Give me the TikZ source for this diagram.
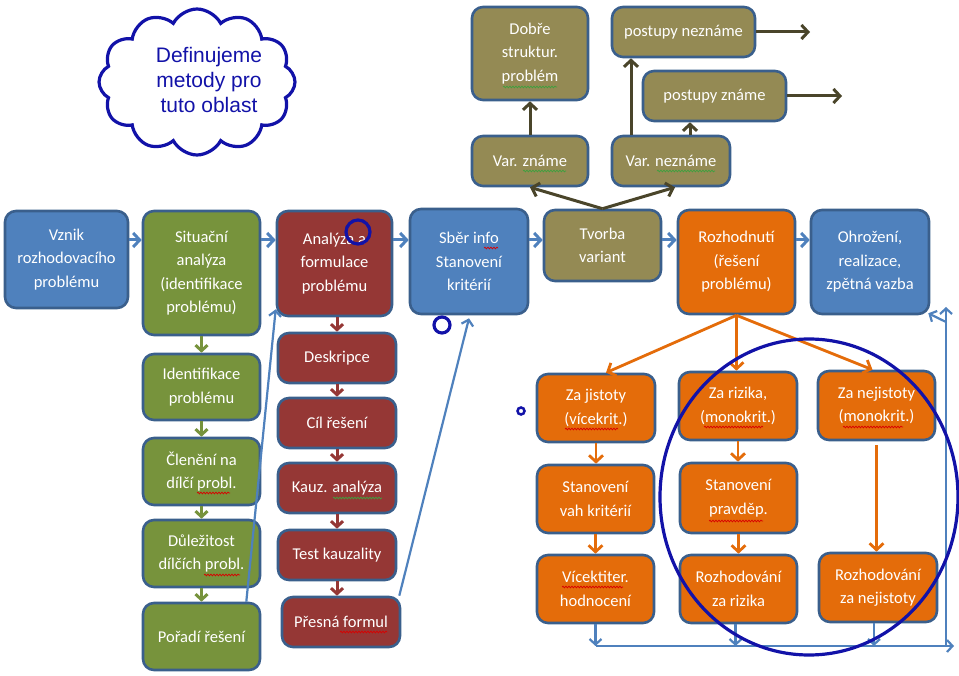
\documentclass[tikz,border=0pt]{standalone}
\usepackage{fontspec}
\setmainfont{Carlito}
\newfontfamily\cloudfont{Liberation Sans}
\usetikzlibrary{arrows.meta,shapes.symbols,decorations.pathmorphing}
\definecolor{cblue}{HTML}{4F81BD}
\definecolor{cedge}{HTML}{3A5F8C}
\definecolor{cgreen}{HTML}{77933C}
\definecolor{cred}{HTML}{953735}
\definecolor{colive}{HTML}{948A54}
\definecolor{corange}{HTML}{E46C0A}
\definecolor{cdark}{HTML}{4A452A}
\definecolor{cmark}{HTML}{1212A8}
\definecolor{sqgreen}{HTML}{3FA03F}
\tikzset{
 box/.style={draw=cedge, line width=2.6pt, rounded corners=11pt, text=white, align=center,
   font=\fontsize{16.5}{23.5}\selectfont, inner sep=2pt},
 bluebox/.style={box, fill=cblue},
 greenbox/.style={box, fill=cgreen},
 redbox/.style={box, fill=cred},
 olivebox/.style={box, fill=colive},
 orangebox/.style={box, fill=corange},
 tipv/.style={-{Straight Barb[length=6.5pt,width=14pt]}},
 tipw/.style={-{Straight Barb[length=5.5pt,width=12pt]}},
 barrow/.style={tipv, draw=cblue, line width=3pt},
 bthin/.style={tipw, draw=cblue, line width=2.2pt},
 garrow/.style={tipw, draw=cgreen, line width=3pt},
 rarrow/.style={tipw, draw=cred, line width=3pt},
 oarrow/.style={tipv, draw=cdark, line width=3pt},
 orarrow/.style={tipv, draw=corange, line width=2.8pt},
 sqr/.style={draw=red!85!black, line width=0.7pt, decorate, decoration={snake, amplitude=0.9pt, segment length=3pt}},
 sqg/.style={draw=sqgreen, line width=0.7pt, decorate, decoration={snake, amplitude=0.9pt, segment length=3pt}},
 annot/.style={draw=cmark, line width=3.2pt},
}
\begin{document}
\begin{tikzpicture}[x=1pt,y=-1pt]
\useasboundingbox (0,0) rectangle (959,676);
% cloud
\node[cloud, cloud puffs=12, cloud puff arc=125, aspect=1.35, annot, minimum width=196pt, minimum height=146pt] (cloud) at (197,82) {};
\node[text=cmark, align=center, font=\cloudfont\fontsize{21}{25}\selectfont] (cloudtxt) at (209,80) {Definujeme\\metody pro\\tuto oblast};
% main row
\node[bluebox, minimum width=123pt, minimum height=97pt] (vznik) at (66.5,259.5) {Vznik\\rozhodovacího\\problému};
\node[greenbox, minimum width=117pt, minimum height=124pt] (sit) at (201.5,273) {Situační\\analýza\\(identifikace\\problému)};
\node[redbox, minimum width=115pt, minimum height=105pt] (ana) at (334.5,263.5) {Analýza a\\formulace\\problému};
\node[bluebox, minimum width=118pt, minimum height=105pt] (sber) at (469,261.5) {Sběr info\\Stanovení\\kritérií};
\node[olivebox, minimum width=117pt, minimum height=71pt] (tvorba) at (602.5,245.5) {Tvorba\\variant};
\node[orangebox, minimum width=117pt, minimum height=104pt] (rozh) at (736.5,262) {Rozhodnutí\\(řešení\\problému)};
\node[bluebox, minimum width=118pt, minimum height=104pt] (ohr) at (870,262) {Ohrožení,\\realizace,\\zpětná vazba};
% green column
\node[greenbox, minimum width=117pt, minimum height=66pt] (ident) at (201.5,387) {Identifikace\\problému};
\node[greenbox, minimum width=117pt, minimum height=67pt] (clen) at (201.5,471.5) {Členění na\\dílčí probl.};
\node[greenbox, minimum width=117pt, minimum height=67pt] (dul) at (201.5,553.5) {Důležitost\\dílčích probl.};
\node[greenbox, minimum width=117pt, minimum height=67pt] (por) at (201.5,636.5) {Pořadí řešení};
% red column
\node[redbox, minimum width=118pt, minimum height=50pt] (desk) at (337,358) {Deskripce};
\node[redbox, minimum width=118pt, minimum height=50pt] (cil) at (337,423) {Cíl řešení};
\node[redbox, minimum width=118pt, minimum height=50pt] (kauz) at (337,488) {Kauz. analýza};
\node[redbox, minimum width=118pt, minimum height=50pt] (test) at (337,555) {Test kauzality};
\node[redbox, minimum width=118pt, minimum height=50pt] (pres) at (341,622) {Přesná formul};
% olive top
\node[olivebox, minimum width=116pt, minimum height=93pt] (dobre) at (530,53.5) {Dobře\\struktur.\\problém};
\node[olivebox, minimum width=143pt, minimum height=50pt] (pneznam) at (683.5,32) {postupy neznáme};
\node[olivebox, minimum width=143pt, minimum height=50pt] (pznam) at (714.5,96) {postupy známe};
\node[olivebox, minimum width=116pt, minimum height=50pt] (varz) at (530,161) {Var. známe};
\node[olivebox, minimum width=118pt, minimum height=50pt] (varn) at (671,161) {Var. neznáme};
% orange lower
\node[orangebox, minimum width=118pt, minimum height=68pt] (zaj) at (596,408) {Za jistoty\\(vícekrit.)};
\node[orangebox, minimum width=118pt, minimum height=68pt] (zar) at (738,406) {Za rizika,\\(monokrit.)};
\node[orangebox, minimum width=117pt, minimum height=69pt] (zan) at (876.5,405.5) {Za nejistoty\\(monokrit.)};
\node[orangebox, minimum width=117pt, minimum height=68pt] (stv) at (595.5,499) {Stanovení\\vah kritérií};
\node[orangebox, minimum width=117pt, minimum height=70pt] (stp) at (738.5,498) {Stanovení\\pravděp.};
\node[orangebox, minimum width=117pt, minimum height=68pt] (vic) at (595.5,589) {Vícektiter.\\hodnocení};
\node[orangebox, minimum width=117pt, minimum height=68pt] (rzr) at (738.5,589) {Rozhodování\\za rizika};
\node[orangebox, minimum width=118pt, minimum height=69pt] (rzn) at (878,587.5) {Rozhodování\\za nejistoty};
% main row arrows
\coordinate (row) at (0,240);
\draw[barrow] (vznik.east |- row) -- (sit.west |- row);
\draw[barrow] (sit.east |- row) -- (ana.west |- row);
\draw[barrow] (ana.east |- row) -- (sber.west |- row);
\draw[barrow] (sber.east |- row) -- (tvorba.west |- row);
\draw[barrow] (tvorba.east |- row) -- (rozh.west |- row);
\draw[barrow] (rozh.east |- row) -- (ohr.west |- row);
% green arrows
\draw[garrow] (sit.south) -- (ident.north);
\draw[garrow] (ident.south) -- (clen.north);
\draw[garrow] (clen.south) -- (dul.north);
\draw[garrow] (dul.south) -- (por.north);
% red arrows
\draw[rarrow] (ana.south -| desk.north) -- (desk.north);
\draw[rarrow] (desk.south) -- (cil.north);
\draw[rarrow] (cil.south) -- (kauz.north);
\draw[rarrow] (kauz.south) -- (test.north);
\draw[rarrow] (test.south) -- (test.south |- pres.north);
% long blue lines
\draw[bthin] ([xshift=-15pt]por.north east) -- ([yshift=8pt]ana.south west);
\draw[bthin] ([xshift=-2pt]pres.north east) -- ([yshift=-3pt]sber.south);
% olive arrows
\draw[oarrow] (tvorba.north) -- (varz.south);
\draw[oarrow] (tvorba.north) -- ([xshift=4pt]varn.south);
\draw[oarrow] (varz.north) -- (dobre.south);
\coordinate (a1) at ([xshift=-40pt]varn.north);
\coordinate (a2) at ([xshift=19pt]varn.north);
\draw[oarrow] (a1) -- (a1 |- pneznam.south);
\draw[oarrow] (a2) -- (a2 |- pznam.south);
\coordinate (pe1) at (810,32);
\coordinate (pe2) at (842,96);
\draw[oarrow] (pneznam.east) -- (pe1);
\draw[oarrow] (pznam.east) -- (pe2);
% orange arrows
\draw[orarrow] (rozh.south) -- ([xshift=10pt]zaj.north);
\draw[orarrow] (rozh.south) -- (rozh.south |- zar.north);
\draw[orarrow] (rozh.south) -- ([xshift=-4pt]zan.north);
\draw[orarrow] (zaj.south) -- (zaj.south |- stv.north);
\draw[orarrow] (stv.south) -- (stv.south |- vic.north);
\draw[orarrow] (zar.south) -- (zar.south |- stp.north);
\draw[orarrow] (stp.south) -- (stp.south |- rzr.north);
\draw[orarrow] ([yshift=-4pt]zan.south) -- (zan.south |- rzn.north);
% bottom feedback
\coordinate (bot) at (0,646);
\coordinate (botend) at (954,646);
\coordinate (vbot) at (946,646);
\coordinate (vtop) at (946,307);
\coordinate (vmid) at (946,322);
\draw[bthin] (vic.south) -- (vic.south |- bot);
\draw[bthin] ([xshift=-3pt]rzr.south) -- ([xshift=-3pt]rzr.south |- bot);
\draw[bthin] ([xshift=-4pt]rzn.south) -- ([xshift=-4pt]rzn.south |- bot);
\draw[bthin] (vic.south |- bot) -- (botend);
\draw[bthin] (vbot) -- (vtop);
\draw[bthin] (vmid) -- ([xshift=-2pt,yshift=2pt]ohr.south east);
% annotation marks
\draw[annot] (358,232) circle (12);
\draw[annot] (442,325) circle (8);
\draw[draw=cmark, line width=2.5pt] (521,411) circle (3.5);
\draw[annot] (809,497) ellipse [x radius=149, y radius=158];
% spell-check squiggles
\draw[sqg] (503,87) -- (557,87);
\draw[sqg] (523,171) -- (566,171);
\draw[sqg] (657,171) -- (715,171);
\draw[sqr] (484,248) -- (498,248);
\draw[sqr] (197,493) -- (230,493);
\draw[sqr] (204,575) -- (240,575);
\draw[sqg] (333,498) -- (382,498);
\draw[sqr] (340,632) -- (387,632);
\draw[sqr] (565,429) -- (618,429);
\draw[sqr] (704,427) -- (763,427);
\draw[sqr] (843,427) -- (903,427);
\draw[sqr] (709,521) -- (763,521);
\draw[sqr] (562,587) -- (623,587);
\end{tikzpicture}
\end{document}
